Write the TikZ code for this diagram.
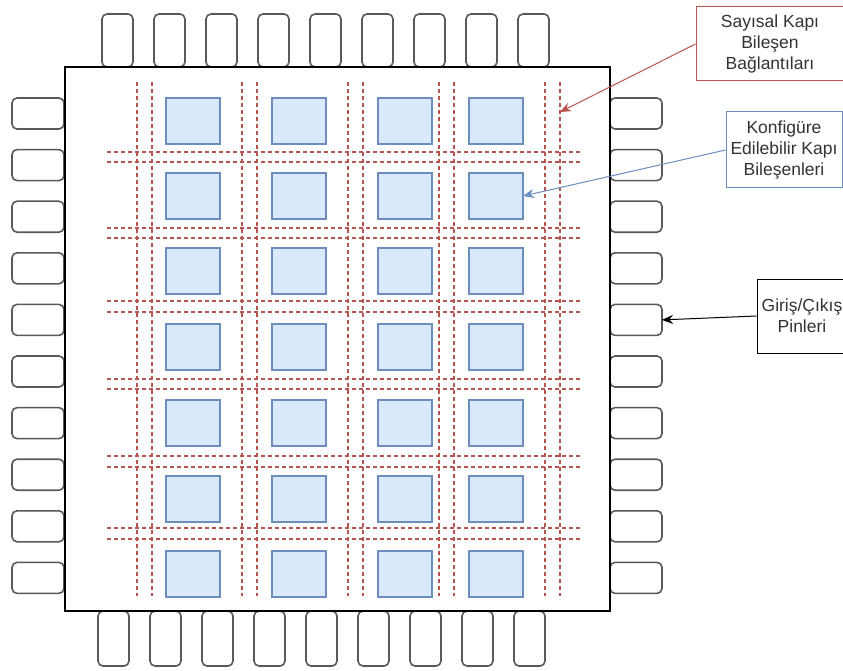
\documentclass[tikz,border=0pt]{standalone}
\usepackage{fontspec}
\setmainfont{Liberation Sans}
\usetikzlibrary{arrows.meta}
\definecolor{bluefill}{HTML}{DAE8FC}
\definecolor{blueline}{HTML}{6C8EBF}
\definecolor{redline}{HTML}{B85450}
\begin{document}
\begin{tikzpicture}[x=1pt,y=-1pt,
  pinbox/.style={draw=black!65, line width=1.6pt, rounded corners=5pt, fill=white, inner sep=0pt, outer sep=0pt, anchor=north west},
  pinv/.style={pinbox, minimum width=31pt, minimum height=53pt},
  pinb/.style={pinbox, minimum width=31pt, minimum height=55pt},
  pinh/.style={pinbox, minimum width=52pt, minimum height=31pt},
  chipbox/.style={draw=black, line width=1.3pt, fill=white, inner sep=0pt, outer sep=0pt, anchor=north west, minimum width=545pt, minimum height=544pt},
  gate/.style={draw=blueline, fill=bluefill, line width=1.3pt, inner sep=0pt, outer sep=0pt, anchor=north west, minimum width=54pt, minimum height=46pt},
  bus/.style={draw=redline, line width=1.2pt, dash pattern=on 4pt off 3pt},
  notebox/.style={fill=white, line width=1pt, inner sep=0pt, align=center, font=\fontsize{17.5}{21}\selectfont, text=black!80},
  ptr/.style={line width=1pt, -{Stealth[length=11pt,width=9pt]}}
]
\useasboundingbox (0,0) rectangle (843,671);
% pins
\foreach \i in {0,...,8} {
  \node[pinv] (pt\i) at ({102+52*\i},14) {};
  \node[pinb] (pb\i) at ({98+52*\i},611) {};
}
\foreach \j in {0,...,9} {
  \node[pinh] (pl\j) at (12,{98+51.6*\j}) {};
  \node[pinh] (pr\j) at (610,{98+51.6*\j}) {};
}
% chip body
\node[chipbox] (chip) at (65,67) {};
% interconnect lines
\foreach \x in {137,152,242,257,348,363,439,454,545,560}
  \draw[bus] (\x,82) -- (\x,596);
\foreach \y in {152,162,228,238,301,312,379,389,456,467,528,539}
  \draw[bus] (107,\y) -- (580,\y);
% configurable gate blocks
\foreach \c/\x in {1/166,2/272,3/378,4/469}
  \foreach \r/\y in {1/98,2/173,3/248,4/324,5/400,6/476,7/551}
    \node[gate] (g\r\c) at (\x,\y) {};
% labels
\node[notebox, draw=redline, minimum width=148pt, minimum height=74pt] (lbus) at (770,44) {Sayısal Kapı\\Bileşen\\Bağlantıları};
\node[notebox, draw=blueline, minimum width=116pt, minimum height=76pt] (lgate) at (784,150) {Konfigüre\\Edilebilir Kapı\\Bileşenleri};
\node[notebox, draw=black, minimum width=90pt, minimum height=74pt] (lpin) at (802,316) {Giriş/Çıkış\\Pinleri};
\coordinate (bustarget) at (560,112);
\draw[ptr, redline] (lbus.west) -- (bustarget);
\draw[ptr, blueline] (lgate.west) -- (g24.east);
\draw[ptr, black] (lpin.west) -- (pr4.east);
\end{tikzpicture}
\end{document}
